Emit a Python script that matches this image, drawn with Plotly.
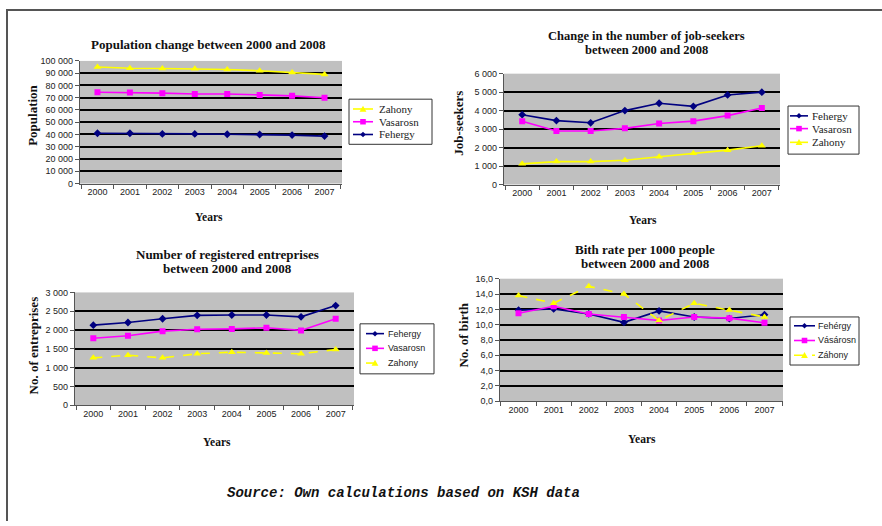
import plotly.graph_objects as go

W, H = 882, 526

YEARS = ["2000", "2001", "2002", "2003", "2004", "2005", "2006", "2007"]

# Population
POP_ZAHONY = [95000, 94000, 93800, 93600, 93000, 92000, 90500, 89000]
POP_VASAROSN = [74500, 74300, 73700, 73000, 73000, 72300, 71500, 70000]
POP_FEHERGY = [41000, 41000, 40500, 40500, 40200, 40000, 39500, 38700]

# Job-seekers
JOB_FEHERGY = [3780, 3460, 3340, 4000, 4400, 4230, 4850, 5000]
JOB_VASAROSN = [3430, 2900, 2900, 3040, 3300, 3430, 3730, 4140]
JOB_ZAHONY = [1120, 1240, 1240, 1310, 1500, 1690, 1860, 2100]

# Registered enterprises
ENT_FEHERGY = [2130, 2200, 2300, 2390, 2400, 2400, 2350, 2650]
ENT_VASAROSN = [1780, 1850, 1970, 2020, 2030, 2060, 1990, 2300]
ENT_ZAHONY = [1260, 1330, 1260, 1370, 1410, 1390, 1370, 1480]

# Birth rate per 1000 people
BIRTH_FEHERGY = [11.9, 12.05, 11.4, 10.3, 11.8, 11.0, 10.8, 11.3]
BIRTH_VASAROSN = [11.5, 12.4, 11.4, 11.0, 10.55, 11.0, 10.85, 10.25]
BIRTH_ZAHONY = [13.8, 12.8, 15.0, 14.0, 10.55, 12.8, 11.9, 11.0]

NAVY, MAGENTA, YELLOW = "#000080", "#FF00FF", "#FFFF00"
SERIF = "Liberation Serif, Times New Roman, serif"
SANS = "Liberation Sans, Arial, sans-serif"

STYLE = {
    "Fehergy": dict(color=NAVY, symbol="diamond", size=6),
    "Vasarosn": dict(color=MAGENTA, symbol="square", size=6),
    "Zahony": dict(color=YELLOW, symbol="triangle-up", size=7),
}


def px_x(x):
    return x / W


def px_y(y):
    return 1 - y / H


fig = go.Figure()
annotations = []
shapes = []


def marker_path(symbol, cx, cy, r):
    """Closed SVG path (paper coords) for a small legend key marker."""
    if symbol == "diamond":
        pts = [(cx, cy - r), (cx + r, cy), (cx, cy + r), (cx - r, cy)]
    elif symbol == "square":
        pts = [(cx - r, cy - r), (cx + r, cy - r), (cx + r, cy + r), (cx - r, cy + r)]
    else:
        pts = [(cx, cy - r), (cx + r, cy + r * 0.8), (cx - r, cy + r * 0.8)]
    d = "M " + " L ".join(f"{px_x(x):.5f},{px_y(y):.5f}" for x, y in pts) + " Z"
    return d


def draw_legend(box, key_x, text_x, rows, entries, font, dash_zahony):
    x0, y0, x1, y1 = box
    shapes.append(dict(type="rect", xref="paper", yref="paper",
                       x0=px_x(x0), x1=px_x(x1), y0=px_y(y1), y1=px_y(y0),
                       fillcolor="#FFFFFF", line=dict(color="#333", width=1)))
    for (name, label), ry in zip(entries, rows):
        st = STYLE[name]
        dash = "dash" if (dash_zahony and name == "Zahony") else "solid"
        shapes.append(dict(type="line", xref="paper", yref="paper",
                           x0=px_x(key_x[0]), x1=px_x(key_x[1]),
                           y0=px_y(ry), y1=px_y(ry),
                           line=dict(color=st["color"], width=1.6, dash=dash)))
        cx = (key_x[0] + key_x[1]) / 2
        r = 3.4 if name == "Zahony" else 2.8
        shapes.append(dict(type="path", xref="paper", yref="paper",
                           path=marker_path(st["symbol"], cx, ry, r),
                           fillcolor=st["color"], line=dict(width=0)))
        annotations.append(dict(
            x=px_x(text_x), y=px_y(ry), xref="paper", yref="paper",
            showarrow=False, text=label, font=font,
            xanchor="left", yanchor="middle",
        ))


def add_panel(idx, box, series, yrange, ystep, yfmt, dash_zahony=False):
    left, top, right, bottom = box
    xa = "xaxis" if idx == 1 else f"xaxis{idx}"
    ya = "yaxis" if idx == 1 else f"yaxis{idx}"
    xref = "x" if idx == 1 else f"x{idx}"
    yref = "y" if idx == 1 else f"y{idx}"

    for name, label, values in series:
        st = STYLE[name]
        dash = "dash" if (dash_zahony and name == "Zahony") else "solid"
        fig.add_trace(go.Scatter(
            x=YEARS, y=values, name=label, mode="lines+markers",
            line=dict(color=st["color"], width=1.6, dash=dash),
            marker=dict(color=st["color"], symbol=st["symbol"], size=st["size"]),
            xaxis=xref, yaxis=yref, showlegend=False,
        ))

    ticks = []
    v = yrange[0]
    while v <= yrange[1] + 1e-9:
        ticks.append(round(v, 6))
        v += ystep
    inner = ticks[1:-1]

    fig.layout[xa] = dict(
        domain=[px_x(left), px_x(right)], anchor=yref, type="category",
        tickson="boundaries", ticks="outside", ticklen=4, tickcolor="#555",
        showline=True, linecolor="#555", linewidth=1.2, showgrid=False,
        tickfont=dict(family=SANS, size=9, color="#222"), fixedrange=True,
    )
    fig.layout[ya] = dict(
        domain=[px_y(bottom), px_y(top)], anchor=xref, range=list(yrange),
        tickvals=ticks, tickformat=yfmt, ticks="outside", ticklen=4,
        tickcolor="#555", showline=True, linecolor="#555", linewidth=1.2,
        showgrid=False, zeroline=False,
        minor=dict(tickvals=inner, showgrid=True, gridcolor="#000000",
                   gridwidth=1.5, ticks=""),
        tickfont=dict(family=SANS, size=9, color="#222"), fixedrange=True,
    )


add_panel(
    1, (80, 57, 342, 182),
    [("Zahony", "Zahony", POP_ZAHONY),
     ("Vasarosn", "Vasarosn", POP_VASAROSN),
     ("Fehergy", "Fehergy", POP_FEHERGY)],
    (0, 100000), 10000, ",.0f",
)
add_panel(
    2, (504, 70, 780, 183),
    [("Fehergy", "Fehergy", JOB_FEHERGY),
     ("Vasarosn", "Vasarosn", JOB_VASAROSN),
     ("Zahony", "Zahony", JOB_ZAHONY)],
    (0, 6000), 1000, ",.0f",
)
add_panel(
    3, (75, 293, 354, 408),
    [("Fehergy", "Fehergy", ENT_FEHERGY),
     ("Vasarosn", "Vasarosn", ENT_VASAROSN),
     ("Zahony", "Zahony", ENT_ZAHONY)],
    (0, 3000), 500, ",.0f", dash_zahony=True,
)
add_panel(
    4, (500, 279, 783, 404),
    [("Fehergy", "Fehérgy", BIRTH_FEHERGY),
     ("Vasarosn", "Vásárosn", BIRTH_VASAROSN),
     ("Zahony", "Záhony", BIRTH_ZAHONY)],
    (0, 16), 2, ".1f", dash_zahony=True,
)

serif_leg = dict(family=SERIF, size=11, color="#222")
sans_leg = dict(family=SANS, size=9, color="#222")
draw_legend((349, 96, 432, 142), (353, 373), 377, [106, 119, 132],
            [("Zahony", "Zahony"), ("Vasarosn", "Vasarosn"), ("Fehergy", "Fehergy")],
            serif_leg, False)
draw_legend((788, 103, 859, 152), (790, 808), 810, [113, 126, 140],
            [("Fehergy", "Fehergy"), ("Vasarosn", "Vasarosn"), ("Zahony", "Zahony")],
            serif_leg, False)
draw_legend((360, 325, 434, 376), (366, 384), 386, [335, 350, 365],
            [("Fehergy", "Fehergy"), ("Vasarosn", "Vasarosn"), ("Zahony", "Zahony")],
            sans_leg, True)
draw_legend((790, 318, 859, 367), (794, 815), 816, [327, 342, 357],
            [("Fehergy", "Fehérgy"), ("Vasarosn", "Vásárosn"), ("Zahony", "Záhony")],
            sans_leg, True)


def text(x, y, s, size, family=SERIF, bold=True, angle=0, color="#111"):
    annotations.append(dict(
        x=px_x(x), y=px_y(y), xref="paper", yref="paper", showarrow=False,
        text=f"<b>{s}</b>" if bold else s, textangle=angle,
        font=dict(family=family, size=size, color=color),
        xanchor="center", yanchor="middle",
    ))


# Chart titles
text(208, 40, "Population change between 2000 and 2008", 13)
text(646, 32, "Change in the number of job-seekers", 12.5)
text(646, 46, "between 2000 and 2008", 12.5)
text(227, 254, "Number of registered entreprises", 13)
text(227, 269, "between 2000 and 2008", 13)
text(645, 249, "Bith rate per 1000 people", 13)
text(645, 264, "between 2000 and 2008", 13)

# Axis titles
text(209, 216, "Years", 11.5)
text(643, 219, "Years", 11.5)
text(217, 445, "Years", 11.5)
text(642, 442, "Years", 11.5)
text(33, 113, "Population", 13, angle=-90)
text(459, 121, "Job-seekers", 13, angle=-90)
text(33, 347, "No. of entreprises", 13, angle=-90)
text(464, 336, "No. of birth", 13, angle=-90)

# Source line
annotations.append(dict(
    x=px_x(403), y=px_y(497), xref="paper", yref="paper", showarrow=False,
    text="<b><i>Source: Own calculations based on KSH data</i></b>",
    font=dict(family="Liberation Mono, Courier New, monospace", size=14,
              color="#111"),
    xanchor="center", yanchor="middle",
))

# Page frame (top and left rules)
shapes += [
    dict(type="line", xref="paper", yref="paper", x0=px_x(6), x1=1,
         y0=px_y(5), y1=px_y(5), line=dict(color="#555", width=2)),
    dict(type="line", xref="paper", yref="paper", x0=px_x(7), x1=px_x(7),
         y0=px_y(5), y1=0, line=dict(color="#555", width=2)),
]

fig.update_layout(
    width=W, height=H, margin=dict(l=0, r=0, t=0, b=0),
    paper_bgcolor="#FFFFFF", plot_bgcolor="#C0C0C0",
    separators=", ", annotations=annotations, shapes=shapes,
    hovermode=False, showlegend=False,
)
fig.write_html("out.html", config={"displayModeBar": False})
